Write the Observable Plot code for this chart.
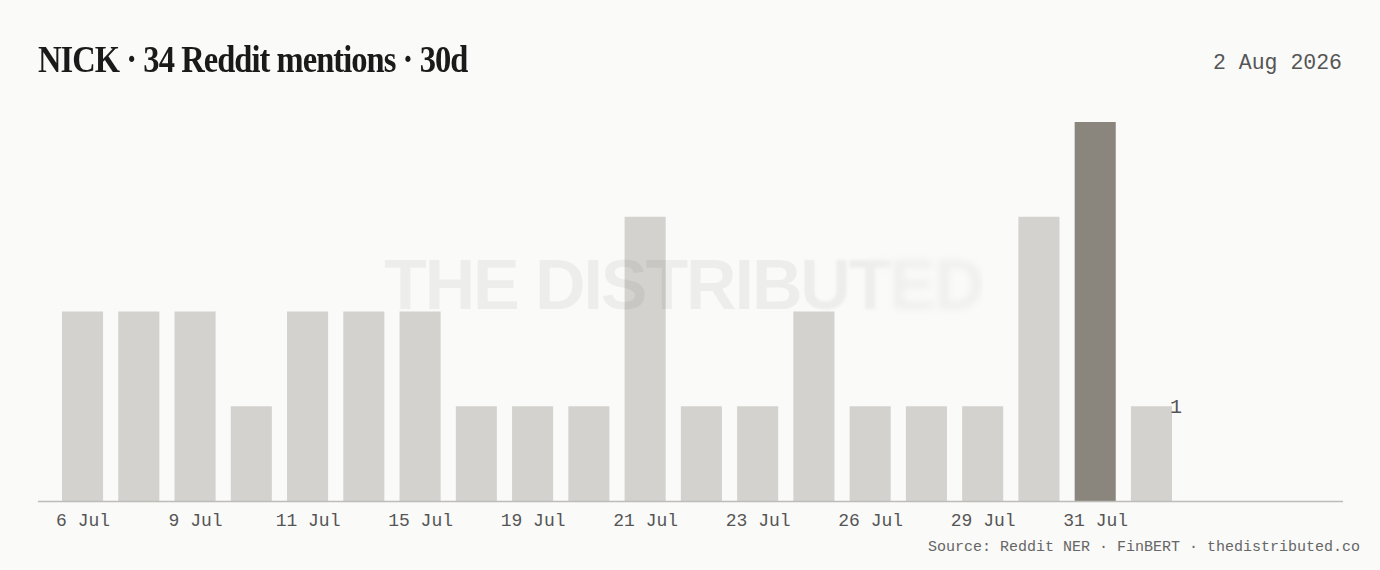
<!DOCTYPE html>
<html>
<head>
<meta charset="utf-8">
<script src="https://cdn.jsdelivr.net/npm/d3@7"></script>
<script src="https://cdn.jsdelivr.net/npm/@observablehq/plot@0.6"></script>
<style>
  html, body { margin: 0; padding: 0; background: #fafaf9; }
  #wrap { position: relative; width: 1380px; height: 570px; overflow: hidden; background: #fafaf9; }
  .title { position: absolute; left: 38px; top: 40px; font-family: "Liberation Serif", serif; font-weight: 700; font-size: 38px; line-height: 38px; color: #1a1a1a; letter-spacing: -1.1px; white-space: nowrap; transform-origin: left center; transform: scaleX(0.855); }
  .date { position: absolute; right: 38px; top: 53px; font-family: "Liberation Mono", monospace; font-size: 21.5px; line-height: 21.5px; color: #555; white-space: nowrap; }
  .foot { position: absolute; right: 20px; top: 540px; font-family: "Liberation Mono", monospace; font-size: 15px; line-height: 15px; color: #666; white-space: nowrap; }
  #chart { position: absolute; left: 0; top: 100px; }
  .wm { position: absolute; left: 384px; top: 250px; font-family: "Liberation Sans", sans-serif; font-weight: 700; font-size: 70px; line-height: 70px; letter-spacing: -2.1px; color: rgba(0,0,0,0.05); white-space: nowrap; pointer-events: none; }
  .wm.sharp { -webkit-mask-image: linear-gradient(to right, #000 0%, #000 68%, transparent 76%); mask-image: linear-gradient(to right, #000 0%, #000 68%, transparent 76%); }
  .wm.mid { filter: blur(1.5px); -webkit-mask-image: linear-gradient(to right, transparent 68%, #000 76%, #000 80%, transparent 86%); mask-image: linear-gradient(to right, transparent 68%, #000 76%, #000 80%, transparent 86%); }
  .wm.soft { filter: blur(3.5px); color: rgba(0,0,0,0.042); -webkit-mask-image: linear-gradient(to right, transparent 80%, #000 86%, #000 100%); mask-image: linear-gradient(to right, transparent 80%, #000 86%, #000 100%); }
</style>
</head>
<body>
<div id="wrap">
  <div class="title">NICK · 34 Reddit mentions · 30d</div>
  <div class="date">2 Aug 2026</div>
  <div id="chart"></div>
  <div class="wm sharp">THE DISTRIBUTED</div>
  <div class="wm mid">THE DISTRIBUTED</div>
  <div class="wm soft">THE DISTRIBUTED</div>
  <div class="foot">Source: Reddit NER · FinBERT · thedistributed.co</div>
</div>
<script>
const dates = ["6 Jul","7 Jul","9 Jul","10 Jul","11 Jul","14 Jul","15 Jul","17 Jul","19 Jul","20 Jul","21 Jul","22 Jul","23 Jul","25 Jul","26 Jul","28 Jul","29 Jul","30 Jul","31 Jul","1 Aug"];
const mentions = [2,2,2,1,2,2,2,1,1,1,3,1,1,2,1,1,1,3,4,1];
const tickLabels = ["6 Jul","9 Jul","11 Jul","15 Jul","19 Jul","21 Jul","23 Jul","26 Jul","29 Jul","31 Jul"];
const highlightDate = "31 Jul";
const barColor = "#d3d2ce";
const highlightColor = "#8a867e";

const data = dates.map((d, i) => ({date: d, n: mentions[i]}));
const last = data[data.length - 1];

const chart = Plot.plot({
  width: 1380,
  height: 440,
  marginLeft: 38,
  marginRight: 37,
  marginTop: 22,
  marginBottom: 39,
  style: {background: "transparent", fontFamily: "Liberation Mono, monospace", fontSize: "18px", color: "#555"},
  x: {type: "band", domain: dates, range: [54.4, 1179.6], paddingInner: 0.27, paddingOuter: 0.135, round: false, label: null},
  y: {domain: [0, 4], axis: null},
  color: {type: "identity"},
  marks: [
    Plot.barY(data, {x: "date", y: "n", fill: d => d.date === highlightDate ? highlightColor : barColor}),
    Plot.ruleY([0], {stroke: "#bdbcb8", strokeWidth: 1.5}),
    Plot.axisX({ticks: tickLabels, tickSize: 0, tickPadding: 12, label: null, fill: "#555", fontSize: 18}),
    Plot.text([last], {x: "date", y: "n", text: d => String(d.n), textAnchor: "start", dx: 18, fill: "#555", fontSize: 20})
  ]
});
document.getElementById("chart").appendChild(chart);
</script>
</body>
</html>
